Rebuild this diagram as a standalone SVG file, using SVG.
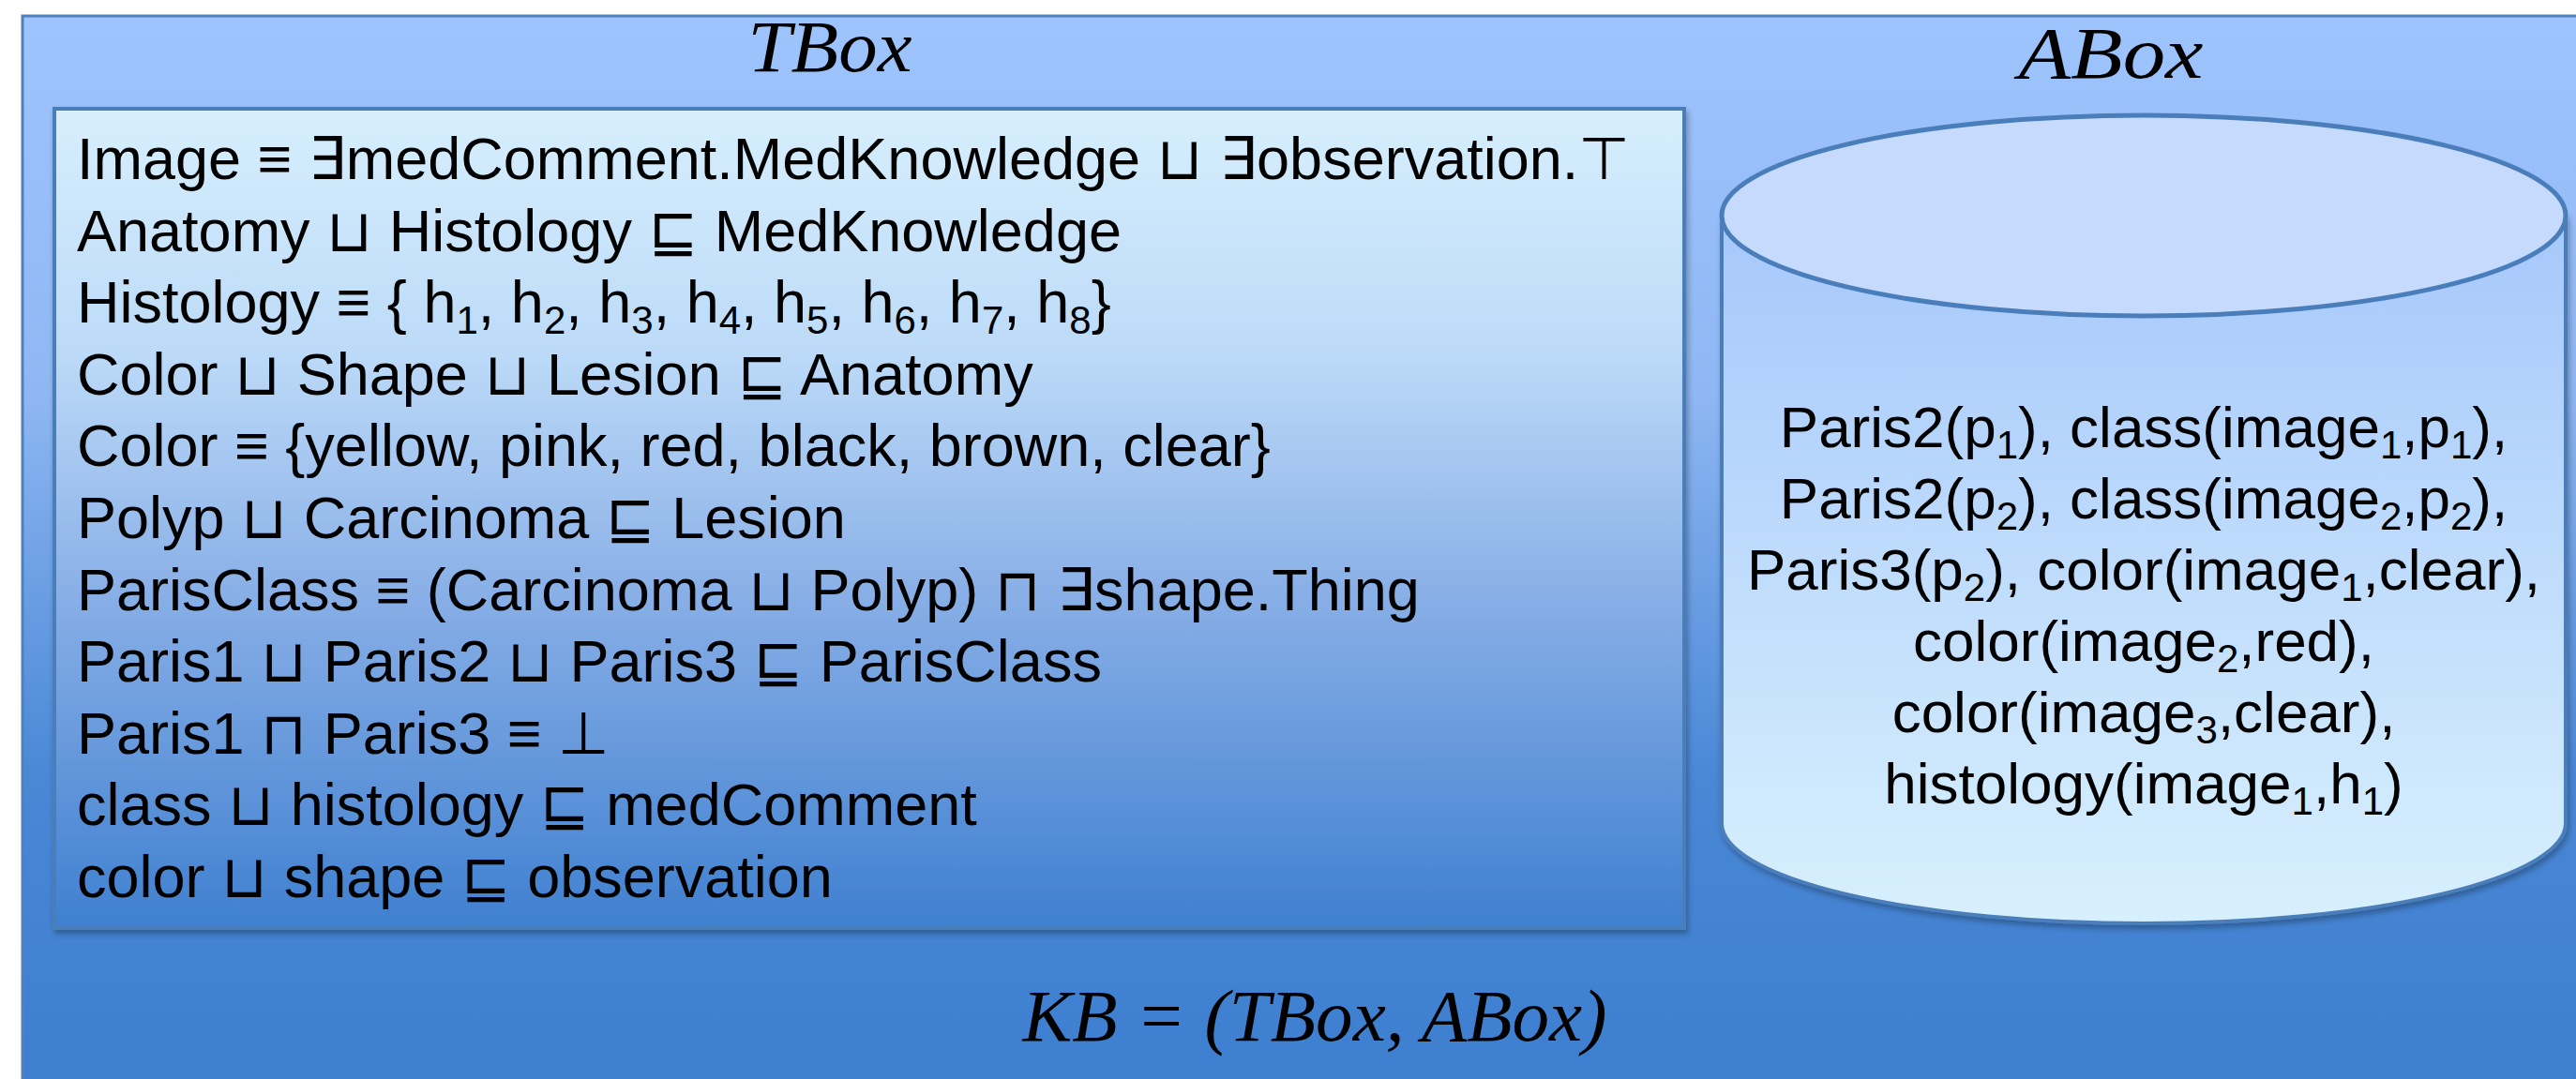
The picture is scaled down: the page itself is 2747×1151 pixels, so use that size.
<svg xmlns="http://www.w3.org/2000/svg" width="2747" height="1151" viewBox="0 0 2747 1151">
<style>
.t{font-family:"Liberation Sans",Arial,"DejaVu Sans",sans-serif;font-size:63px;fill:#000}
.a{font-family:"Liberation Sans",Arial,"DejaVu Sans",sans-serif;font-size:62px;fill:#000;text-anchor:middle}
.s{font-size:42px}
.ttl{font-family:"Liberation Serif","DejaVu Serif",serif;font-style:italic;font-size:78px;fill:#000;text-anchor:middle}
</style>
<defs>
<linearGradient id="bg" x1="0" y1="0" x2="0" y2="1">
<stop offset="0" stop-color="#9ec4fd"/>
<stop offset="0.35" stop-color="#8fb7f3"/>
<stop offset="0.7" stop-color="#4a88d6"/>
<stop offset="1" stop-color="#3d7ecf"/>
</linearGradient>
<linearGradient id="tb" x1="0" y1="0" x2="0" y2="1">
<stop offset="0" stop-color="#d7effd"/>
<stop offset="0.3" stop-color="#bcdaf8"/>
<stop offset="0.6" stop-color="#87aee6"/>
<stop offset="1" stop-color="#3f80d0"/>
</linearGradient>
<linearGradient id="cy" x1="0" y1="0" x2="0" y2="1">
<stop offset="0" stop-color="#a6c8fb"/>
<stop offset="1" stop-color="#d8f0fd"/>
</linearGradient>
<filter id="sh" x="-5%" y="-5%" width="110%" height="115%">
<feDropShadow dx="2" dy="4" stdDeviation="3" flood-color="#000" flood-opacity="0.3"/>
</filter>
</defs>
<g id="kb">
<rect x="24" y="17" width="2740" height="1150" fill="url(#bg)" stroke="#4f81bd" stroke-width="3"/>
<text class="ttl" x="1402" y="1110" textLength="623" lengthAdjust="spacingAndGlyphs">KB = (TBox, ABox)</text>
</g>
<g id="tbox">
<text class="ttl" x="885" y="76" textLength="175" lengthAdjust="spacingAndGlyphs">TBox</text>
<rect x="58" y="116" width="1738" height="874" fill="url(#tb)" stroke="#4a7ebb" stroke-width="4" filter="url(#sh)"/>
<text class="t" x="82" y="191">Image ≡ ∃medComment.MedKnowledge ⊔ ∃observation.⊤</text>
<text class="t" x="82" y="268">Anatomy ⊔ Histology ⊑ MedKnowledge</text>
<text class="t" x="82" y="344">Histology ≡ { h<tspan class="s" dy="12">1</tspan><tspan dy="-12">, h</tspan><tspan class="s" dy="12">2</tspan><tspan dy="-12">, h</tspan><tspan class="s" dy="12">3</tspan><tspan dy="-12">, h</tspan><tspan class="s" dy="12">4</tspan><tspan dy="-12">, h</tspan><tspan class="s" dy="12">5</tspan><tspan dy="-12">, h</tspan><tspan class="s" dy="12">6</tspan><tspan dy="-12">, h</tspan><tspan class="s" dy="12">7</tspan><tspan dy="-12">, h</tspan><tspan class="s" dy="12">8</tspan><tspan dy="-12">}</tspan></text>
<text class="t" x="82" y="421">Color ⊔ Shape ⊔ Lesion ⊑ Anatomy</text>
<text class="t" x="82" y="497">Color ≡ {yellow, pink, red, black, brown, clear}</text>
<text class="t" x="82" y="574">Polyp ⊔ Carcinoma ⊑ Lesion</text>
<text class="t" x="82" y="651">ParisClass ≡ (Carcinoma ⊔ Polyp) ⊓ ∃shape.Thing</text>
<text class="t" x="82" y="727">Paris1 ⊔ Paris2 ⊔ Paris3 ⊑ ParisClass</text>
<text class="t" x="82" y="804">Paris1 ⊓ Paris3 ≡ ⊥</text>
<text class="t" x="82" y="880">class ⊔ histology ⊑ medComment</text>
<text class="t" x="82" y="957">color ⊔ shape ⊑ observation</text>
</g>
<g id="abox">
<text class="ttl" x="2251" y="83" textLength="197" lengthAdjust="spacingAndGlyphs">ABox</text>
<path d="M1836,230 L1836,878 A450,107 0 0 0 2736,878 L2736,230 Z" fill="url(#cy)" stroke="#4a7ebb" stroke-width="4" filter="url(#sh)"/>
<ellipse cx="2286" cy="230" rx="450" ry="107" fill="#c5dafc" stroke="#4a7ebb" stroke-width="5"/>
<text class="a" x="2286" y="477">Paris2(p<tspan class="s" dy="12">1</tspan><tspan dy="-12">), class(image</tspan><tspan class="s" dy="12">1</tspan><tspan dy="-12">,p</tspan><tspan class="s" dy="12">1</tspan><tspan dy="-12">),</tspan></text>
<text class="a" x="2286" y="553">Paris2(p<tspan class="s" dy="12">2</tspan><tspan dy="-12">), class(image</tspan><tspan class="s" dy="12">2</tspan><tspan dy="-12">,p</tspan><tspan class="s" dy="12">2</tspan><tspan dy="-12">),</tspan></text>
<text class="a" x="2286" y="629">Paris3(p<tspan class="s" dy="12">2</tspan><tspan dy="-12">), color(image</tspan><tspan class="s" dy="12">1</tspan><tspan dy="-12">,clear),</tspan></text>
<text class="a" x="2286" y="705">color(image<tspan class="s" dy="12">2</tspan><tspan dy="-12">,red),</tspan></text>
<text class="a" x="2286" y="781">color(image<tspan class="s" dy="12">3</tspan><tspan dy="-12">,clear),</tspan></text>
<text class="a" x="2286" y="857">histology(image<tspan class="s" dy="12">1</tspan><tspan dy="-12">,h</tspan><tspan class="s" dy="12">1</tspan><tspan dy="-12">)</tspan></text>
</g>
<g id="connectors"/>
</svg>
